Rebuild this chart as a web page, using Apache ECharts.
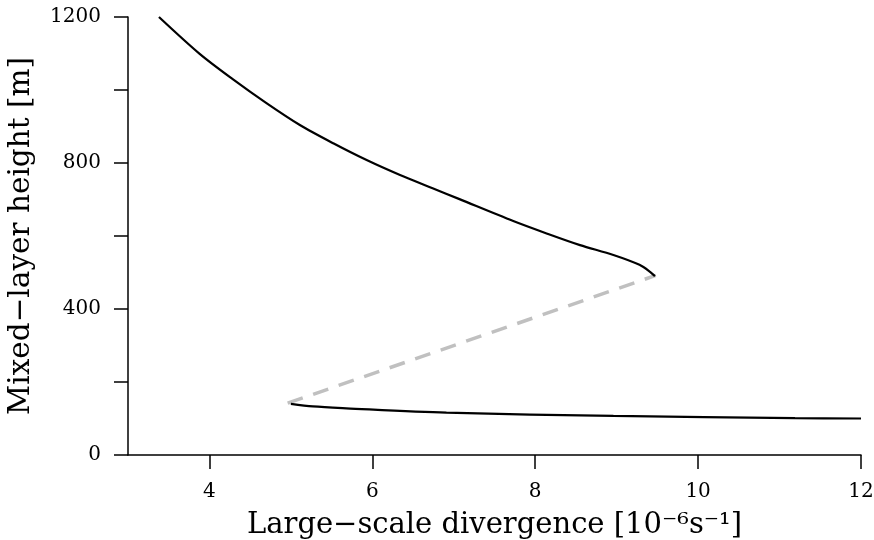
<!DOCTYPE html>
<html>
<head>
<meta charset="utf-8">
<script src="https://cdn.jsdelivr.net/npm/echarts@6/dist/echarts.min.js"></script>
<style>html,body{margin:0;padding:0;background:#fff}#c{width:874px;height:540px}</style>
</head>
<body>
<div id="c"></div>
<script>
// Upper (stable, deep) branch: [divergence, height]
const upperX = [3.38, 3.88, 4.29, 4.70, 5.11, 5.52, 5.93, 6.34, 6.74, 7.07, 7.73, 8.14, 8.55, 8.96, 9.28, 9.41, 9.47];
const upperY = [1200, 1099, 1029, 964, 904, 854, 808, 767, 731, 701, 641, 607, 575, 548, 521, 502, 490];
// Lower (stable, shallow) branch
const lowerX = [5.00, 5.27, 5.68, 6.91, 8.96, 11.19, 12.00];
const lowerY = [140, 133, 128, 116, 107, 101, 100];
// Unstable branch (dashed)
const midX = [4.96, 9.48];
const midY = [142, 492];
// Axis ticks
const xTicks = [4, 6, 8, 10, 12];
const yTicks = [0, 200, 400, 600, 800, 1000, 1200];
const yLabels = [0, 400, 800, 1200];

const zip = (xs, ys) => xs.map((x, i) => [x, ys[i]]);
const FONT = 'DejaVu Serif';

const chart = echarts.init(document.getElementById('c'), null, {renderer: 'canvas'});
chart.setOption({
  animation: false,
  backgroundColor: '#ffffff',
  grid: {left: 128, right: 13, top: 17, bottom: 85, containLabel: false, outerBoundsMode: 'none'},
  xAxis: {
    type: 'value', min: 3, max: 12,
    name: 'Large\u2212scale divergence [10\u207B\u2076s\u207B\u00B9]',
    nameLocation: 'middle', nameGap: 56,
    nameTextStyle: {fontFamily: FONT, fontSize: 29, color: '#000'},
    axisLine: {show: true, onZero: false, lineStyle: {color: '#000', width: 1.5}},
    axisTick: {show: true, length: 14, lineStyle: {color: '#000', width: 1.5}, customValues: xTicks},
    axisLabel: {fontFamily: FONT, fontSize: 20, color: '#000', margin: 27, customValues: xTicks,
      formatter: v => String(v)},
    splitLine: {show: false}
  },
  yAxis: {
    type: 'value', min: 0, max: 1200,
    name: 'Mixed\u2212layer height [m]',
    nameLocation: 'middle', nameGap: 92,
    nameTextStyle: {fontFamily: FONT, fontSize: 29.5, color: '#000'},
    axisLine: {show: true, onZero: false, lineStyle: {color: '#000', width: 1.5}},
    axisTick: {show: true, length: 14, lineStyle: {color: '#000', width: 1.5}, customValues: yTicks},
    axisLabel: {fontFamily: FONT, fontSize: 20, color: '#000', margin: 27, customValues: yLabels,
      formatter: v => String(v)},
    splitLine: {show: false}
  },
  series: [
    {
      type: 'line', data: zip(midX, midY), showSymbol: false, symbol: 'none',
      lineStyle: {color: '#c0c0c0', width: 3.5, type: [16, 11], cap: 'butt'}, z: 1
    },
    {
      type: 'line', data: zip(upperX, upperY), showSymbol: false, symbol: 'none', smooth: 0.3,
      lineStyle: {color: '#000', width: 2.2}, z: 2
    },
    {
      type: 'line', data: zip(lowerX, lowerY), showSymbol: false, symbol: 'none', smooth: 0.3,
      lineStyle: {color: '#000', width: 2.2}, z: 2
    }
  ]
});
</script>
</body>
</html>
